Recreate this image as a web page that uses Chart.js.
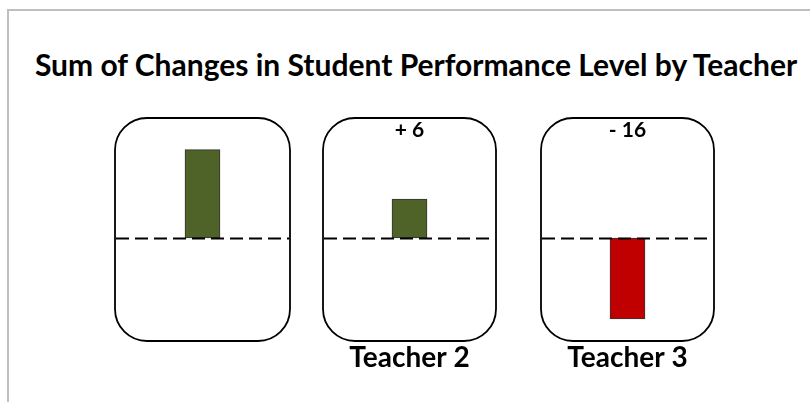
<!DOCTYPE html>
<html>
<head>
<meta charset="utf-8">
<script src="https://cdn.jsdelivr.net/npm/chart.js@4.4.1/dist/chart.umd.min.js"></script>
<style>
    html, body { margin: 0; padding: 0; background: #fff; overflow: hidden; }
    #wrap { position: relative; width: 810px; height: 402px; overflow: hidden; }
    #frame {
        position: absolute; left: 7px; top: 9px; width: 900px; height: 500px;
        border: 2px solid #bfbfbf; box-sizing: border-box;
    }
    #title {
        position: absolute; left: 0; top: 46px; width: 832px; text-align: center;
        font-family: Lato, "Open Sans", sans-serif; font-weight: 700; font-size: 30px;
        color: #000; white-space: nowrap;
    }
    canvas { position: absolute; top: 0; }
</style>
</head>
<body>
<div id="wrap">
    <div id="frame"></div>
    <div id="title">Sum of Changes in Student Performance Level by Teacher</div>
    <canvas id="panel0"></canvas>
    <canvas id="panel1"></canvas>
    <canvas id="panel2"></canvas>
</div>
<script>
// data
const teachers = ["", "Teacher 2", "Teacher 3"];
const changes = [14, 6, -16];
const changeLabels = ["", "+ 6", "- 16"];
// each small panel has its own value axis
const axisMin = [-16.3, -15.85, -20.35];
const axisMax = [19.0, 18.46, 23.7];

const barColors = ["#4F6228", "#4F6228", "#C00000"];

// layout of the three panels (px)
const panelLeft = [115, 323, 541];
const panelWidth = [175, 173, 173];
const panelTop = 118;
const panelBottom = 341;
const sidePad = 20;

Chart.defaults.font.family = "Lato, 'Open Sans', sans-serif";
Chart.defaults.color = "#000";

const panelPlugin = {
    id: "panelPlugin",
    afterDatasetsDraw(chart, args, opts) {
        const { ctx, chartArea } = chart;
        const yScale = chart.scales.y;
        const zeroY = Math.round(yScale.getPixelForValue(0)) + 0.5;

        // dashed zero line
        ctx.save();
        ctx.strokeStyle = "#000";
        ctx.lineWidth = 2;
        ctx.setLineDash([13, 6]);
        ctx.beginPath();
        ctx.moveTo(chartArea.left + 1, zeroY);
        ctx.lineTo(chartArea.right - 1, zeroY);
        ctx.stroke();
        ctx.restore();

        // rounded panel frame
        const r = 32;
        const x0 = chartArea.left, y0 = chartArea.top;
        const x1 = chartArea.right, y1 = chartArea.bottom;
        ctx.save();
        ctx.strokeStyle = "#000";
        ctx.lineWidth = 1.8;
        ctx.beginPath();
        ctx.roundRect(x0, y0, x1 - x0, y1 - y0, r);
        ctx.stroke();
        ctx.restore();

        // value label at top of panel
        if (opts.label) {
            ctx.save();
            ctx.font = "bold 21px Lato, 'Open Sans', sans-serif";
            ctx.fillStyle = "#000";
            ctx.textAlign = "center";
            ctx.textBaseline = "middle";
            ctx.fillText(opts.label, (x0 + x1) / 2, y0 + 12);
            ctx.restore();
        }
    }
};

function drawPanel(i) {
    const canvas = document.getElementById("panel" + i);
    canvas.width = panelWidth[i] + sidePad * 2;
    canvas.height = 402;
    canvas.style.left = (panelLeft[i] - sidePad) + "px";

    new Chart(canvas.getContext("2d"), {
        type: "bar",
        data: {
            labels: [teachers[i]],
            datasets: [{
                data: [changes[i]],
                backgroundColor: barColors[i],
                borderColor: "#333",
                borderWidth: 1,
                borderSkipped: false,
                barThickness: 35
            }]
        },
        options: {
            responsive: false,
            animation: false,
            devicePixelRatio: 1,
            layout: {
                padding: { left: sidePad, right: sidePad, top: panelTop, bottom: 402 - panelBottom - 46 }
            },
            plugins: {
                legend: { display: false },
                tooltip: { enabled: false },
                panelPlugin: { label: changeLabels[i] }
            },
            scales: {
                x: {
                    grid: { display: false, drawTicks: false },
                    border: { display: false },
                    ticks: {
                        padding: 0,
                        font: { size: 28, weight: "bold" },
                        color: "#000"
                    },
                    afterFit(axis) { axis.height = 46; }
                },
                y: {
                    display: false,
                    min: axisMin[i],
                    max: axisMax[i]
                }
            }
        },
        plugins: [panelPlugin]
    });
}

[0, 1, 2].forEach(drawPanel);
</script>
</body>
</html>
